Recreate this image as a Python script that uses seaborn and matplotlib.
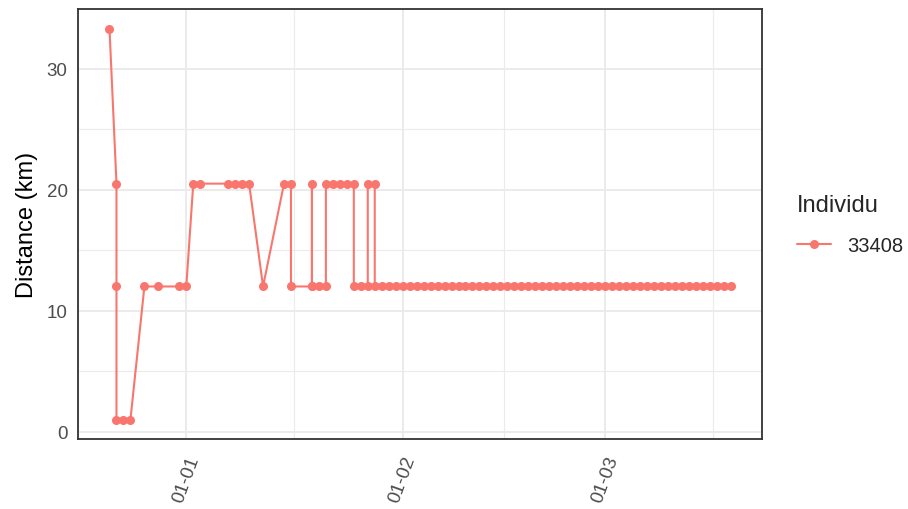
import numpy as np
import pandas as pd
import matplotlib
matplotlib.use("Agg")
import matplotlib.pyplot as plt
import matplotlib.dates as mdates
import seaborn as sns

# --- donnees ---
individu = "33408"
dates = [
    "2019-12-21", "2019-12-22", "2019-12-22", "2019-12-22", "2019-12-23", "2019-12-24",
    "2019-12-26", "2019-12-28", "2019-12-31", "2020-01-01", "2020-01-02", "2020-01-03",
    "2020-01-07", "2020-01-08", "2020-01-09", "2020-01-10", "2020-01-12", "2020-01-15",
    "2020-01-16", "2020-01-16", "2020-01-19", "2020-01-19", "2020-01-19", "2020-01-20",
    "2020-01-21", "2020-01-21", "2020-01-22", "2020-01-23", "2020-01-24", "2020-01-25",
    "2020-01-25", "2020-01-26", "2020-01-27", "2020-01-27", "2020-01-28", "2020-01-28",
    "2020-01-29", "2020-01-30", "2020-01-31",
    "2020-02-01", "2020-02-02", "2020-02-03", "2020-02-04", "2020-02-05", "2020-02-06",
    "2020-02-07", "2020-02-08", "2020-02-09", "2020-02-10", "2020-02-11", "2020-02-12",
    "2020-02-13", "2020-02-14", "2020-02-15", "2020-02-16", "2020-02-17", "2020-02-18",
    "2020-02-19", "2020-02-20", "2020-02-21", "2020-02-22", "2020-02-23", "2020-02-24",
    "2020-02-25", "2020-02-26", "2020-02-27", "2020-02-28", "2020-02-29",
    "2020-03-01", "2020-03-02", "2020-03-03", "2020-03-04", "2020-03-05", "2020-03-06",
    "2020-03-07", "2020-03-08", "2020-03-09", "2020-03-10", "2020-03-11", "2020-03-12",
    "2020-03-13", "2020-03-14", "2020-03-15", "2020-03-16", "2020-03-17", "2020-03-18",
    "2020-03-19",
]
distance_km = [
    33.3, 20.5, 12, 1, 1, 1,
    12, 12, 12, 12, 20.5, 20.5,
    20.5, 20.5, 20.5, 20.5, 12, 20.5,
    20.5, 12, 12, 20.5, 12, 12,
    12, 20.5, 20.5, 20.5, 20.5, 20.5,
    12, 12, 12, 20.5, 20.5, 12,
    12, 12, 12,
    12, 12, 12, 12, 12, 12,
    12, 12, 12, 12, 12, 12,
    12, 12, 12, 12, 12, 12,
    12, 12, 12, 12, 12, 12,
    12, 12, 12, 12, 12,
    12, 12, 12, 12, 12, 12,
    12, 12, 12, 12, 12, 12,
    12, 12, 12, 12, 12, 12,
    12,
]
tick_dates = ["2020-01-01", "2020-02-01", "2020-03-01"]
minor_bounds = ["2019-12-01", "2020-01-01", "2020-02-01", "2020-03-01", "2020-04-01"]

df = pd.DataFrame({"date": pd.to_datetime(dates),
                   "distance": distance_km,
                   "Individu": individu})

sns.set_style("white")
plt.rcParams['font.family'] = ['Liberation Sans', 'DejaVu Sans']

fig = plt.figure(figsize=(9.08, 5.10), dpi=100)
ax = fig.add_axes([0.086, 0.137, 0.753, 0.843])

sns.lineplot(data=df, x="date", y="distance", hue="Individu",
             palette=["#F8766D"], estimator=None, sort=False,
             marker="o", markersize=6.5, markeredgewidth=0,
             linewidth=1.5, ax=ax, zorder=3)

# limites facon ggplot (expansion 5 %)
xn = mdates.date2num(df["date"])
xr = xn.max() - xn.min()
ax.set_xlim(xn.min() - 0.05 * xr, xn.max() + 0.05 * xr)
yr = max(distance_km) - min(distance_km)
ax.set_ylim(min(distance_km) - 0.05 * yr, max(distance_km) + 0.05 * yr)

# grilles
ax.set_xticks(mdates.date2num(pd.to_datetime(tick_dates)))
mb = mdates.date2num(pd.to_datetime(minor_bounds))
ax.set_xticks((mb[:-1] + mb[1:]) / 2, minor=True)
ax.xaxis.set_major_formatter(mdates.DateFormatter("%d-%m"))
ax.set_yticks([0, 10, 20, 30])
ax.set_yticks([5, 15, 25], minor=True)
ax.grid(which="major", color="#EBEBEB", linewidth=1.4, zorder=0)
ax.grid(which="minor", color="#EBEBEB", linewidth=0.8, zorder=0)
ax.set_axisbelow(True)

for s in ax.spines.values():
    s.set_color("#333333")
    s.set_linewidth(1.3)

ax.tick_params(axis="both", which="major", length=4.5, width=1.1, color="#333333",
               labelsize=13.5, labelcolor="#4D4D4D", pad=3)
ax.tick_params(axis="x", which="major", pad=6)
ax.tick_params(axis="both", which="minor", length=0)
for lab in ax.get_xticklabels():
    lab.set_rotation(70)
    lab.set_ha("right")
    lab.set_va("top")
    lab.set_rotation_mode("anchor")

ax.set_xlabel("")
ax.set_ylabel("Distance (km)", fontsize=17, color="black", labelpad=6)

leg = ax.legend(title="Individu", loc="center left", bbox_to_anchor=(1.04, 0.5),
                frameon=False, fontsize=14.5, title_fontsize=17, alignment="left",
                handlelength=1.7, borderaxespad=0, labelspacing=1.0)
for h in leg.legend_handles:
    h.set_markersize(6.5)

fig.savefig("out.png", dpi=100)
